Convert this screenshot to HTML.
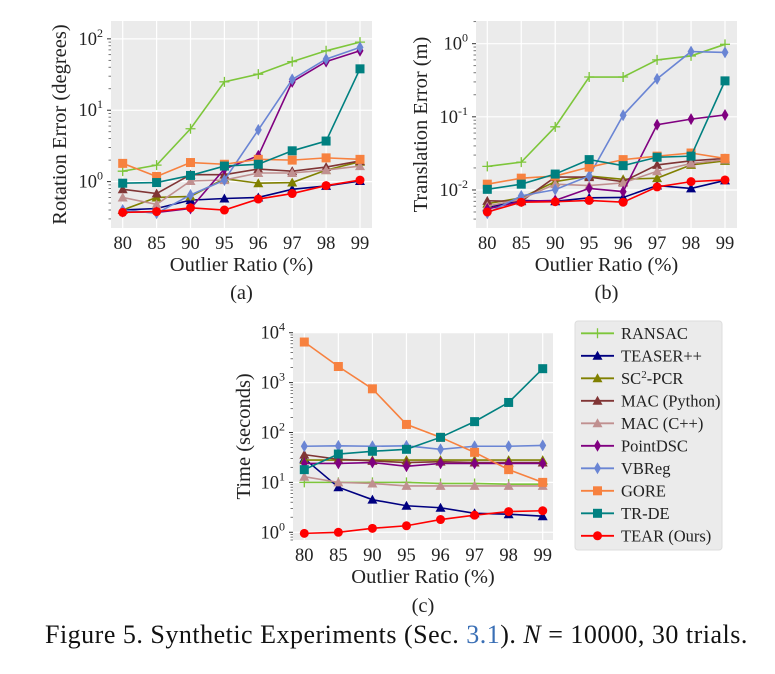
<!DOCTYPE html>
<html><head><meta charset="utf-8"><style>
body{margin:0;background:#fff;width:775px;height:669px;overflow:hidden}
svg text{font-family:"Liberation Serif",serif;fill:#222}
</style></head><body>
<svg id="s" width="775" height="669" xmlns="http://www.w3.org/2000/svg"></svg>
<script>
const categories=["80","85","90","95","96","97","98","99"];
const seriesNames=["RANSAC","TEASER++","SC2-PCR","MAC (Python)","MAC (C++)","PointDSC","VBReg","GORE","TR-DE","TEAR (Ours)"];
const rotRANSAC=[1.4,1.7,5.5,25,32,48,68,90];
const rotTEASER=[0.4,0.42,0.55,0.58,0.6,0.78,0.87,1.02];
const rotSC2=[0.4,0.6,0.62,1.1,0.95,0.97,1.45,1.9];
const rotMACpy=[0.78,0.68,1.25,1.25,1.5,1.4,1.6,1.95];
const rotMACc=[0.6,0.48,1.02,1.05,1.32,1.32,1.45,1.65];
const rotPointDSC=[0.38,0.37,0.42,1.5,2.3,25,48,68];
const rotVBReg=[0.4,0.36,0.65,1.05,5.3,27,52,76];
const rotGORE=[1.8,1.18,1.85,1.75,2.05,2.0,2.15,2.05];
const rotTRDE=[0.95,0.97,1.22,1.65,1.75,2.7,3.7,38];
const rotTEAR=[0.37,0.38,0.43,0.4,0.57,0.68,0.88,1.05];
const traRANSAC=[0.021,0.024,0.073,0.35,0.35,0.6,0.68,0.98];
const traTEASER=[0.0058,0.0072,0.007,0.0078,0.0079,0.0115,0.0105,0.0135];
const traSC2=[0.0065,0.0078,0.013,0.0155,0.014,0.0145,0.022,0.025];
const traMACpy=[0.0071,0.007,0.015,0.015,0.013,0.022,0.025,0.027];
const traMACc=[0.006,0.0075,0.012,0.0115,0.0125,0.018,0.023,0.026];
const traPointDSC=[0.0055,0.007,0.0072,0.0105,0.0095,0.078,0.093,0.106];
const traVBReg=[0.0048,0.0083,0.0101,0.0155,0.105,0.33,0.78,0.76];
const traGORE=[0.012,0.0145,0.0155,0.0205,0.026,0.029,0.032,0.027];
const traTRDE=[0.0102,0.012,0.0165,0.026,0.0215,0.028,0.029,0.31];
const traTEAR=[0.005,0.0068,0.0069,0.0072,0.0068,0.011,0.013,0.0137];
const timRANSAC=[10,10,10,10,9.5,9.5,9.2,9.2];
const timTEASER=[30,8,4.5,3.4,3.1,2.4,2.3,2.1];
const timSC2=[28,28,28,28,28,28,28,28];
const timMACpy=[36,29,27,25,26,25,25,25];
const timMACc=[13,10,9.5,8.5,8.5,8.5,8.5,8.5];
const timPointDSC=[24,24,25,21,24,24,24,24];
const timVBReg=[53,54,53,54,46,53,53,55];
const timGORE=[6500,2100,750,145,80,40,18,10];
const timTRDE=[18,37,42,46,80,165,400,1900];
const timTEAR=[0.95,1.0,1.2,1.35,1.8,2.2,2.6,2.7];

const colors=["#7dc63a","#000080","#808000","#803535","#c09090","#800080","#6a85d4","#f7813f","#008080","#ff0000"];
const markers=["plus","tri","tri","tri","tri","dia","dia","sq","sq","circ"];
const NS="http://www.w3.org/2000/svg";
const S=document.getElementById('s');
function el(t,a,p){const e=document.createElementNS(NS,t);for(const k in a)e.setAttribute(k,a[k]);(p||S).appendChild(e);return e;}
function marker(g,type,x,y,c){
  let m;
  if(type==="plus"){m=el('path',{d:`M${x-5} ${y}H${x+5}M${x} ${y-5}V${y+5}`,stroke:c,'stroke-width':1.3,fill:'none'},g);}
  else if(type==="tri"){m=el('path',{d:`M${x} ${y-5}L${x+5} ${y+4}L${x-5} ${y+4}Z`,fill:c},g);}
  else if(type==="dia"){m=el('path',{d:`M${x} ${y-6}L${x+3.5} ${y}L${x} ${y+6}L${x-3.5} ${y}Z`,fill:c},g);}
  else if(type==="sq"){m=el('rect',{x:x-4.5,y:y-4.5,width:9,height:9,fill:c},g);}
  else {m=el('circle',{cx:x,cy:y,r:4.5,fill:c},g);}
  
  
}
function chart(cfg){
  const g=el('g',{});
  
  
  const {x0,x1,y0,y1,cx0,cx1,ylo,yhi}=cfg;
  const X=i=>cx0+(cx1-cx0)*i/(categories.length-1);
  const Y=v=>y1-(Math.log10(v)-ylo)/(yhi-ylo)*(y1-y0);
  const bg=el('rect',{x:x0,y:y0,width:x1-x0,height:y1-y0,fill:'#ebebeb'},g);
  
  for(let k=Math.ceil(ylo);k<=Math.floor(yhi);k++){
    const y=Y(Math.pow(10,k));
    el('line',{x1:x0,x2:x1,y1:y,y2:y,stroke:'#fff','stroke-width':1.2},g);
    el('line',{x1:x0-4,x2:x0,y1:y,y2:y,stroke:'#333','stroke-width':1},g);
    const t=el('text',{x:x0-8,y:y+6,'text-anchor':'end','font-size':18.5},g);
    
    t.textContent='10';const sp=el('tspan',{dy:-8,'font-size':12},t);sp.textContent=String(k);
  }
  for(let k=Math.floor(ylo);k<=Math.ceil(yhi);k++)for(let m=2;m<10;m++){
    const v=m*Math.pow(10,k);const lv=Math.log10(v);if(lv<ylo||lv>yhi)continue;
    const y=Y(v);el('line',{x1:x0-2.5,x2:x0,y1:y,y2:y,stroke:'#555','stroke-width':0.8},g);
  }
  categories.forEach((c,i)=>{
    el('line',{x1:X(i),x2:X(i),y1:y0,y2:y1,stroke:'#fff','stroke-width':1.2},g);
    const t=el('text',{x:X(i),y:y1+21,'text-anchor':'middle','font-size':18.5},g);
    
    t.textContent=c;
  });
  cfg.data.forEach((d,si)=>{
    const sg=el('g',{},g);
    
    
    el('polyline',{points:d.map((v,i)=>X(i)+','+Y(v)).join(' '),fill:'none',stroke:colors[si],'stroke-width':1.6},sg);
    d.forEach((v,i)=>marker(sg,markers[si],X(i),Y(v),colors[si]));
  });
  const xl=el('text',{x:(x0+x1)/2,y:y1+43,'text-anchor':'middle','font-size':20.5},g);
  
  xl.textContent='Outlier Ratio (%)';
  const yl=el('text',{x:0,y:0,'text-anchor':'middle','font-size':20.5,transform:`translate(${cfg.ylx},${(y0+y1)/2}) rotate(-90)`},g);
  
  yl.textContent=cfg.ylabel;
  const sub=el('text',{x:(x0+x1)/2,y:cfg.suby,'text-anchor':'middle','font-size':20.5},g);
  
  sub.textContent=cfg.sub;
}
chart({name:'rotation-error-chart',x0:111,x1:372,y0:21,y1:228,cx0:122.7,cx1:360,ylo:-0.65,yhi:2.25,
  data:[rotRANSAC,rotTEASER,rotSC2,rotMACpy,rotMACc,rotPointDSC,rotVBReg,rotGORE,rotTRDE,rotTEAR],
  ylabel:'Rotation Error (degrees)',ylx:66,sub:'(a)',suby:299});
chart({name:'translation-error-chart',x0:476,x1:737,y0:21,y1:228,cx0:487.3,cx1:725,ylo:-2.52,yhi:0.31,
  data:[traRANSAC,traTEASER,traSC2,traMACpy,traMACc,traPointDSC,traVBReg,traGORE,traTRDE,traTEAR],
  ylabel:'Translation Error (m)',ylx:427,sub:'(b)',suby:299});
chart({name:'time-chart',x0:293,x1:553,y0:332.7,y1:540,cx0:304.3,cx1:542.7,ylo:-0.155,yhi:4,
  data:[timRANSAC,timTEASER,timSC2,timMACpy,timMACc,timPointDSC,timVBReg,timGORE,timTRDE,timTEAR],
  ylabel:'Time (seconds)',ylx:250,sub:'(c)',suby:612});
const lg=el('g',{});


el('rect',{x:575,y:321,width:147,height:229,rx:3,fill:'#ebebeb',stroke:'#ddd'},lg);
seriesNames.forEach((n,i)=>{
  const y=333.3+i*22.5;
  const e=el('g',{},lg);
  
  
  el('line',{x1:581,x2:614,y1:y,y2:y,stroke:colors[i],'stroke-width':1.8},e);
  marker(e,markers[i],597.5,y,colors[i]);
  const t=el('text',{x:621,y:y+5.5,'font-size':16.5},e);
  if(n==="SC2-PCR"){t.textContent='SC';const sp=el('tspan',{dy:-6,'font-size':11},t);sp.textContent='2';const s2=el('tspan',{dy:6},t);s2.textContent='-PCR';}
  else t.textContent=n;
});
</script>
<div style="position:absolute;left:45px;top:620px;font-family:'Liberation Serif',serif;font-size:26px;letter-spacing:0.5px;color:#111;white-space:nowrap">Figure 5. Synthetic Experiments (Sec. <span style="color:#3a6fb5">3.1</span>). <i>N</i> = 10000, 30 trials.</div>
</body></html>
